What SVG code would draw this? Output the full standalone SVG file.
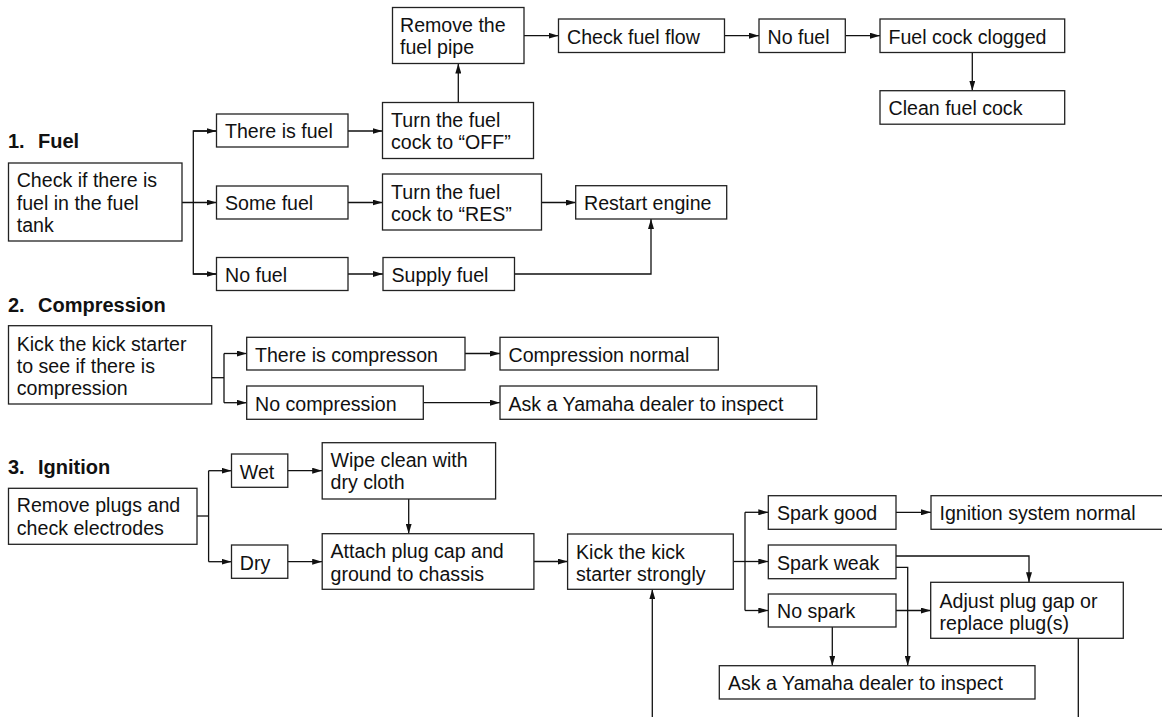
<svg xmlns="http://www.w3.org/2000/svg" width="1162" height="717" viewBox="0 0 1162 717">
<style>
.box{fill:#fff;stroke:#222;stroke-width:1.3}
.t{font-family:"Liberation Sans",Arial,sans-serif;font-size:19.6px;fill:#111}
.h{font-family:"Liberation Sans",Arial,sans-serif;font-size:20px;font-weight:bold;fill:#111}
.c{fill:none;stroke:#111;stroke-width:1.3}
.a{fill:none;stroke:#111;stroke-width:1.3;marker-end:url(#ah)}
</style>
<defs>
<marker id="ah" markerWidth="10" markerHeight="6" refX="10" refY="3" orient="auto" markerUnits="userSpaceOnUse"><path d="M0,0 L10,3 L0,6 Z" fill="#111"/></marker>
</defs>
<rect width="1162" height="717" fill="#fff"/>

<g id="headings">
<text class="h" x="8" y="147.5">1.<tspan x="38">Fuel</tspan></text>
<text class="h" x="8" y="311.5">2.<tspan x="38">Compression</tspan></text>
<text class="h" x="8" y="473.5">3.<tspan x="38">Ignition</tspan></text>
</g>

<g id="connectors">
<line class="a" x1="182" y1="202.5" x2="216.5" y2="202.5"/>
<polyline class="c" points="216.5,131 193.3,131 193.3,274 216.5,274"/>
<line class="a" x1="193.3" y1="131" x2="216.5" y2="131"/>
<line class="a" x1="193.3" y1="274" x2="216.5" y2="274"/>
<line class="a" x1="348" y1="131" x2="382.5" y2="131"/>
<line class="a" x1="348" y1="202.5" x2="382.5" y2="202.5"/>
<line class="a" x1="348" y1="274" x2="383" y2="274"/>
<line class="a" x1="458.3" y1="102.5" x2="458.3" y2="63.5"/>
<line class="a" x1="524" y1="35.7" x2="558.5" y2="35.7"/>
<line class="a" x1="724.5" y1="35.7" x2="759" y2="35.7"/>
<line class="a" x1="845.3" y1="35.7" x2="880" y2="35.7"/>
<line class="a" x1="972.3" y1="52.5" x2="972.3" y2="90.7"/>
<line class="a" x1="541.5" y1="202.5" x2="575.7" y2="202.5"/>
<polyline class="a" points="514.5,274 651,274 651,219"/>
<polyline class="c" points="211.7,377.7 224,377.7"/>
<polyline class="c" points="224,353.5 224,402.7"/>
<line class="a" x1="224" y1="353.5" x2="246.7" y2="353.5"/>
<line class="a" x1="224" y1="402.7" x2="246.7" y2="402.7"/>
<line class="a" x1="465" y1="353.5" x2="500" y2="353.5"/>
<line class="a" x1="423.3" y1="402.7" x2="500" y2="402.7"/>
<polyline class="c" points="197,516 208.6,516"/>
<polyline class="c" points="208.6,470.7 208.6,561.7"/>
<line class="a" x1="208.6" y1="470.7" x2="231.5" y2="470.7"/>
<line class="a" x1="208.6" y1="561.7" x2="231.5" y2="561.7"/>
<line class="a" x1="287.8" y1="470.7" x2="322.2" y2="470.7"/>
<line class="a" x1="287.8" y1="561.7" x2="322.2" y2="561.7"/>
<line class="a" x1="408.7" y1="499" x2="408.7" y2="533.7"/>
<line class="a" x1="533.9" y1="561.5" x2="567.6" y2="561.5"/>
<polyline class="c" points="733.3,561.5 745,561.5"/>
<polyline class="c" points="745,512.3 745,610.5"/>
<line class="a" x1="745" y1="512.3" x2="768.3" y2="512.3"/>
<line class="a" x1="745" y1="561.5" x2="768.3" y2="561.5"/>
<line class="a" x1="745" y1="610.5" x2="768.3" y2="610.5"/>
<line class="a" x1="896" y1="512.3" x2="931" y2="512.3"/>
<polyline class="a" points="896,556 1029,556 1029,582.3"/>
<polyline class="a" points="896,567.3 907.7,567.3 907.7,665.7"/>
<line class="a" x1="896" y1="610.5" x2="930.7" y2="610.5"/>
<line class="a" x1="832.3" y1="627" x2="832.3" y2="665.7"/>
<line class="c" x1="1078.3" y1="638.3" x2="1078.3" y2="717"/>
<line class="a" x1="652.3" y1="717" x2="652.3" y2="589.3"/>
</g>

<g id="n_remove_pipe"><rect class="box" x="392.5" y="7.5" width="131.5" height="56"/><text class="t" x="400" y="32">Remove the</text><text class="t" x="400" y="54">fuel pipe</text></g>
<g id="n_check_flow"><rect class="box" x="558.5" y="19" width="166" height="33.5"/><text class="t" x="567" y="43.5">Check fuel flow</text></g>
<g id="n_no_fuel_top"><rect class="box" x="759" y="19" width="86.3" height="33.5"/><text class="t" x="767.5" y="43.5">No fuel</text></g>
<g id="n_clogged"><rect class="box" x="880" y="19" width="184.7" height="33.5"/><text class="t" x="888.5" y="43.5">Fuel cock clogged</text></g>
<g id="n_clean"><rect class="box" x="880" y="90.7" width="184.7" height="33.5"/><text class="t" x="888.5" y="115">Clean fuel cock</text></g>
<g id="n_check_tank"><rect class="box" x="8.5" y="163" width="173.5" height="78"/><text class="t" x="16.7" y="187">Check if there is</text><text class="t" x="16.7" y="209.5">fuel in the fuel</text><text class="t" x="16.7" y="232">tank</text></g>
<g id="n_there_is_fuel"><rect class="box" x="216.5" y="114" width="131.5" height="33"/><text class="t" x="225" y="138">There is fuel</text></g>
<g id="n_some_fuel"><rect class="box" x="216.5" y="186" width="131.5" height="33"/><text class="t" x="225" y="210">Some fuel</text></g>
<g id="n_no_fuel"><rect class="box" x="216.5" y="257.5" width="131.5" height="33"/><text class="t" x="225" y="281.5">No fuel</text></g>
<g id="n_off"><rect class="box" x="382.5" y="102.5" width="151" height="56"/><text class="t" x="391" y="127">Turn the fuel</text><text class="t" x="391" y="149">cock to “OFF”</text></g>
<g id="n_res"><rect class="box" x="382.5" y="174" width="159" height="56"/><text class="t" x="391" y="198.5">Turn the fuel</text><text class="t" x="391" y="220.5">cock to “RES”</text></g>
<g id="n_supply"><rect class="box" x="383" y="257.5" width="131.5" height="33"/><text class="t" x="391.5" y="281.5">Supply fuel</text></g>
<g id="n_restart"><rect class="box" x="575.7" y="185.7" width="151" height="33.3"/><text class="t" x="584" y="210">Restart engine</text></g>

<g id="n_kick_comp"><rect class="box" x="8.5" y="325.7" width="203.2" height="78.3"/><text class="t" x="16.7" y="350.5">Kick the kick starter</text><text class="t" x="16.7" y="372.5">to see if there is</text><text class="t" x="16.7" y="394.5">compression</text></g>
<g id="n_there_comp"><rect class="box" x="246.7" y="337.3" width="218.3" height="32.7"/><text class="t" x="255" y="361.5">There is compresson</text></g>
<g id="n_comp_normal"><rect class="box" x="500" y="337.3" width="218.3" height="32.7"/><text class="t" x="508.5" y="361.5">Compression normal</text></g>
<g id="n_no_comp"><rect class="box" x="246.7" y="386" width="176.6" height="33.3"/><text class="t" x="255" y="410.5">No compression</text></g>
<g id="n_ask_comp"><rect class="box" x="500" y="386" width="316.7" height="33.3"/><text class="t" x="508.5" y="410.5">Ask a Yamaha dealer to inspect</text></g>

<g id="n_plugs"><rect class="box" x="8.5" y="488.3" width="188.5" height="56"/><text class="t" x="16.8" y="512">Remove plugs and</text><text class="t" x="16.8" y="534.5">check electrodes</text></g>
<g id="n_wet"><rect class="box" x="231.5" y="454" width="56.3" height="33.3"/><text class="t" x="239.8" y="478.5">Wet</text></g>
<g id="n_dry"><rect class="box" x="231.5" y="545" width="56.3" height="33.3"/><text class="t" x="239.8" y="569.5">Dry</text></g>
<g id="n_wipe"><rect class="box" x="322.2" y="442.7" width="173.4" height="56.3"/><text class="t" x="330.5" y="467">Wipe clean with</text><text class="t" x="330.5" y="489">dry cloth</text></g>
<g id="n_attach"><rect class="box" x="322.2" y="533.7" width="211.7" height="55.6"/><text class="t" x="330.5" y="558">Attach plug cap and</text><text class="t" x="330.5" y="580.5">ground to chassis</text></g>
<g id="n_kick_strong"><rect class="box" x="567.6" y="534" width="165.7" height="55.3"/><text class="t" x="576" y="558.5">Kick the kick</text><text class="t" x="576" y="581">starter strongly</text></g>
<g id="n_spark_good"><rect class="box" x="768.3" y="495.7" width="127.7" height="33.6"/><text class="t" x="777" y="520">Spark good</text></g>
<g id="n_ign_normal"><rect class="box" x="931" y="495.7" width="240" height="33.6"/><text class="t" x="939.5" y="520">Ignition system normal</text></g>
<g id="n_spark_weak"><rect class="box" x="768.3" y="545" width="127.7" height="33.7"/><text class="t" x="777" y="569.5">Spark weak</text></g>
<g id="n_no_spark"><rect class="box" x="768.3" y="594" width="127.7" height="33"/><text class="t" x="777" y="618">No spark</text></g>
<g id="n_adjust"><rect class="box" x="930.7" y="582.3" width="192.6" height="56"/><text class="t" x="939.5" y="607.5">Adjust plug gap or</text><text class="t" x="939.5" y="630">replace plug(s)</text></g>
<g id="n_ask_ign"><rect class="box" x="719.3" y="665.7" width="315.7" height="33.3"/><text class="t" x="728" y="690">Ask a Yamaha dealer to inspect</text></g>
</svg>
